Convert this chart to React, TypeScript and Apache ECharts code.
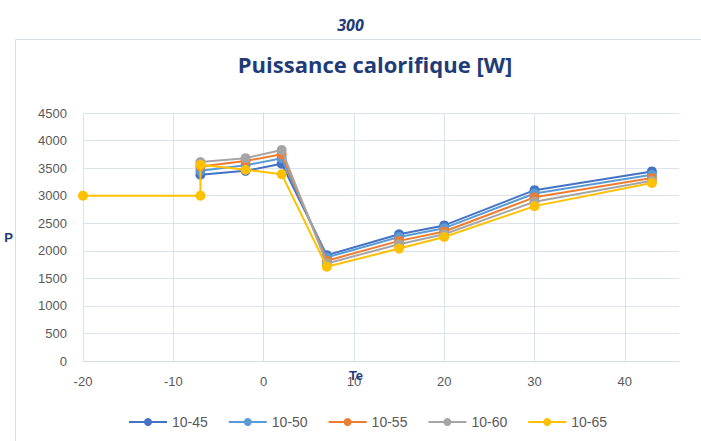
import React, { useEffect, useRef } from "react";
import * as echarts from "echarts";

const seriesNames = ["10-45", "10-50", "10-55", "10-60", "10-65"];
const colors = ["#4472C4", "#5B9BD5", "#ED7D31", "#A5A5A5", "#FFC000"];

const te = [-7, -2, 2, 7, 15, 20, 30, 43];
const s1045 = [3380, 3450, 3580, 1920, 2300, 2460, 3100, 3440];
const s1050 = [3450, 3550, 3680, 1880, 2250, 2410, 3040, 3380];
const s1055 = [3530, 3630, 3750, 1820, 2180, 2350, 2970, 3320];
const s1060 = [3610, 3680, 3830, 1770, 2120, 2300, 2890, 3270];
const s1065 = [3560, 3470, 3390, 1710, 2040, 2250, 2810, 3230];
const extraTe65 = [-20, -7];
const extraVal65 = [3000, 3000];

const xTicks = { min: -20, max: 46, interval: 10 };
const yTicks = { min: 0, max: 4500, interval: 500 };

export default function App() {
  const ref = useRef<HTMLDivElement>(null);
  useEffect(() => {
    if (!ref.current) return;
    const chart = echarts.init(ref.current, undefined, { renderer: "svg" });
    const all = [s1045, s1050, s1055, s1060, s1065];
    const series = all.map((vals, i) => {
      let data = te.map((t, j) => [t, vals[j]]);
      if (i === 4) {
        data = extraTe65.map((t, j) => [t, extraVal65[j]]).concat(data);
      }
      return {
        name: seriesNames[i],
        type: "line",
        data,
        symbol: "circle",
        symbolSize: 10,
        lineStyle: { width: 2, color: colors[i] },
        itemStyle: { color: colors[i] },
        z: 2 + i,
      };
    });
    const labelFont = "'Liberation Sans Narrow', 'Liberation Sans', Arial, sans-serif";
    chart.setOption({
      animation: false,
      backgroundColor: "#ffffff",
      color: colors,
      graphic: [
        {
          type: "rect",
          shape: { x: 15.5, y: 39.5, width: 700, height: 420 },
          style: { fill: "none", stroke: "#D9DEE6", lineWidth: 1 },
          z: -1,
        },
        {
          type: "text",
          x: 356,
          y: 375,
          z: 100,
          style: {
            text: "Te",
            fill: "#1F3C78",
            font: "bold 13px 'Liberation Sans', Arial, sans-serif",
            align: "center",
            verticalAlign: "middle",
          },
        },
      ],
      title: [
        {
          text: "300",
          left: "center",
          top: 12,
          textStyle: {
            fontFamily: "'Open Sans', sans-serif",
            fontStyle: "italic",
            fontWeight: "bold",
            fontSize: 16,
            color: "#1F3C78",
          },
        },
        {
          text: "Puissance calorifique [W]",
          left: 370,
          textAlign: "center",
          top: 48,
          textStyle: {
            fontFamily: "'Open Sans', sans-serif",
            fontWeight: "bold",
            fontSize: 22,
            color: "#1F3C78",
          },
        },
      ],
      legend: {
        bottom: 7,
        left: 123,
        itemWidth: 38,
        itemHeight: 10,
        itemGap: 20,
        textStyle: { color: "#595959", fontSize: 14, fontFamily: labelFont },
        data: seriesNames,
      },
      grid: { left: 83, right: 22, top: 113, bottom: 80, containLabel: false },
      xAxis: {
        type: "value",
        min: xTicks.min,
        max: xTicks.max,
        interval: xTicks.interval,
        axisLine: { show: true, lineStyle: { color: "#D9DEE6" } },
        axisTick: { show: false },
        axisLabel: {
          color: "#595959",
          fontSize: 13,
          margin: 14,
          fontFamily: labelFont,
          showMaxLabel: false,
        },
        splitLine: { show: true, showMaxLine: false, lineStyle: { color: "#DCE3EC", width: 1 } },
      },
      yAxis: {
        type: "value",
        min: yTicks.min,
        max: yTicks.max,
        interval: yTicks.interval,
        name: "P",
        nameLocation: "middle",
        nameGap: 70,
        nameRotate: 0,
        nameTextStyle: { color: "#1F3C78", fontWeight: "bold", fontSize: 13, fontFamily: labelFont },
        axisLine: { show: true, lineStyle: { color: "#D9DEE6" } },
        axisTick: { show: false },
        axisLabel: {
          color: "#595959",
          fontSize: 13,
          margin: 16,
          fontFamily: labelFont,
          formatter: (v: number) => String(v),
        },
        splitLine: { show: true, lineStyle: { color: "#DCE3EC", width: 1 } },
      },
      series,
    });
    return () => chart.dispose();
  }, []);
  return (
    <div
      ref={ref}
      style={{ position: "fixed", left: 0, top: 0, width: 701, height: 441 }}
    />
  );
}
